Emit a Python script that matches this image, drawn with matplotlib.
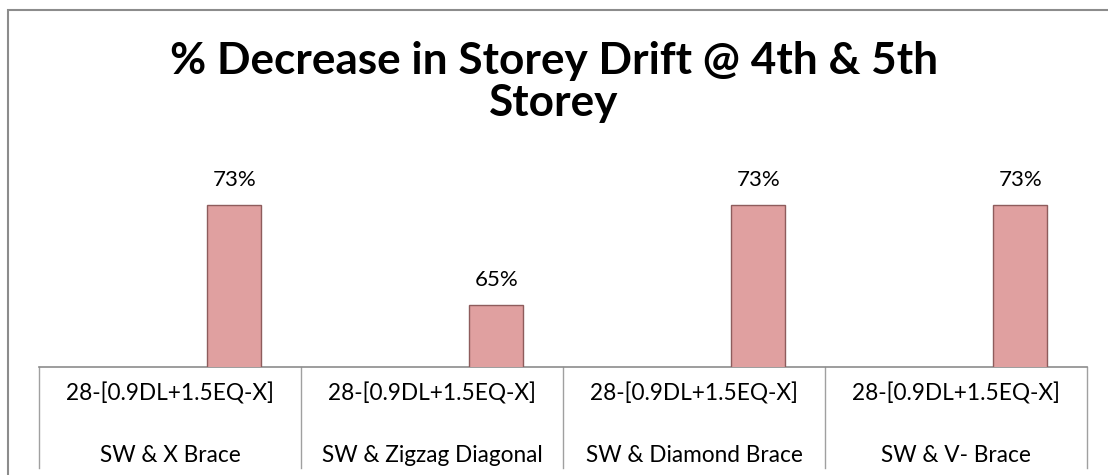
import matplotlib.pyplot as plt
from matplotlib.patches import Rectangle
from matplotlib.transforms import blended_transform_factory

plt.rcParams["font.family"] = ["Lato", "DejaVu Sans"]

title = "% Decrease in Storey Drift @ 4th & 5th\nStorey"
load_case = ["28-[0.9DL+1.5EQ-X]"] * 4
systems = ["SW & X Brace", "SW & Zigzag Diagonal", "SW & Diamond Brace", "SW & V- Brace"]
decrease = [73, 65, 73, 73]

W, H = 1108, 475
fig = plt.figure(figsize=(W / 100, H / 100), dpi=100)

left, right, top, bottom = 39, 1087, 167, 367
ax = fig.add_axes([left / W, 1 - bottom / H, (right - left) / W, (bottom - top) / H])

x = list(range(len(decrease)))
bar_x = [i + 0.245 for i in x]
bars = ax.bar(bar_x, decrease, width=0.206, color="#e0a0a0", edgecolor="#8e5c5c",
              linewidth=1.0, zorder=3)
for b, v in zip(bars, decrease):
    ax.annotate(f"{v}%", (b.get_x() + b.get_width() / 2, v), xytext=(0, 18),
                textcoords="offset points", ha="center", va="center", fontsize=16)

ax.set_xlim(-0.5, len(decrease) - 0.5)
ax.set_ylim(60, 76)
ax.set_xticks([])
ax.set_yticks([])
for s in ["top", "left", "right"]:
    ax.spines[s].set_visible(False)
ax.spines["bottom"].set_color("#8c8c8c")
ax.spines["bottom"].set_linewidth(1.2)

# two-level category labels in a table
tr = blended_transform_factory(ax.transData, fig.transFigure)
for b in [i - 0.5 for i in range(len(decrease) + 1)]:
    ax.plot([b, b], [1 - bottom / H, 1 - 468 / H], transform=tr, color="#a0a0a0",
            lw=1.0, clip_on=False)
for i, (lc, sy) in enumerate(zip(load_case, systems)):
    ax.text(i, 1 - 393 / H, lc, transform=tr, ha="center", va="center", fontsize=16.3)
    ax.text(i, 1 - 456 / H, sy, transform=tr, ha="center", va="center", fontsize=16.3)

fig.text(0.5, 1 - 82 / H, title, ha="center", va="center", fontsize=31.8,
         fontweight="bold", linespacing=1.07)

# chart border (cropped on the right and bottom)
fig.patches.append(Rectangle((8 / W, -0.1), 1.2, 1.1 - 10 / H, transform=fig.transFigure,
                             fill=False, edgecolor="#8c8c8c", linewidth=1.5))

fig.savefig("out.png", dpi=100)
